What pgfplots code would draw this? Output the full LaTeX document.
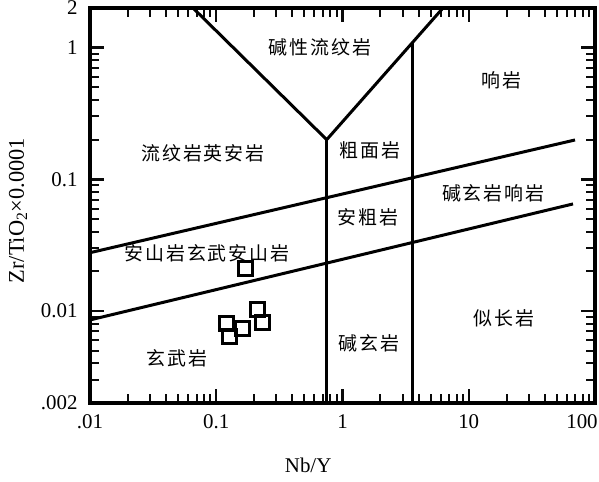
\documentclass[border=0pt]{standalone}
\usepackage{pgfplots}
\pgfplotsset{compat=1.18}
\usepackage{fontspec}
\setmainfont{Liberation Serif}
\newfontfamily\cjk[LetterSpace=10]{Noto Sans CJK SC}
\definecolor{tk}{rgb}{0.04,0.04,0.04}

\begin{document}
\begin{tikzpicture}
\begin{axis}[
  xmode=log, ymode=log,
  scale only axis, width=505bp, height=395bp,
  xmin=0.01, xmax=100, ymin=0.002, ymax=2,
  axis line style={line width=3.5bp},
  xtick={0.01,0.1,1,10,100}, xticklabels={.01,0.1,1,10,\hspace*{-26bp}100},
  ytick={0.002,0.01,0.1,1,2}, yticklabels={.002,0.01,0.1,1,2},
  minor xtick={0.02,0.03,0.04,0.05,0.06,0.07,0.08,0.09,0.2,0.3,0.4,0.5,0.6,0.7,0.8,0.9,2,3,4,5,6,7,8,9,20,30,40,50,60,70,80,90},
  minor ytick={0.003,0.004,0.005,0.006,0.007,0.008,0.009,0.02,0.03,0.04,0.05,0.06,0.07,0.08,0.09,0.2,0.3,0.4,0.5,0.6,0.7,0.8,0.9},
  tick align=inside,
  major tick length=14bp, minor tick length=9bp,
  every major tick/.append style={line width=2.4bp, tk},
  every minor tick/.append style={line width=2bp, tk},
  ticklabel style={font=\fontsize{21}{25}\selectfont},
  xticklabel style={yshift=-8bp},
  yticklabel style={xshift=-9bp},
  xlabel={Nb/Y},
  ylabel={Zr/TiO\textsubscript{2}×0.0001},
  label style={font=\fontsize{21}{25}\selectfont},
  xlabel style={at={(axis description cs:0.432,-0.159)}, anchor=center},
  ylabel style={at={(axis description cs:-0.1426,0.487)}, anchor=center, font=\fontsize{22.5}{26}\selectfont},
]
\addplot[black, line width=3bp] coordinates {(0.0655,2) (0.75,0.2) (6.25,2)};
\addplot[black, line width=3bp] coordinates {(0.75,0.2) (0.75,0.002)};
\addplot[black, line width=3bp] coordinates {(3.56,1.08) (3.56,0.002)};
\addplot[black, line width=3bp] coordinates {(0.01,0.0277) (69.5,0.199)};
\addplot[black, line width=3bp] coordinates {(0.01,0.00855) (67,0.065)};
\addplot[only marks, mark=square, mark size=7bp, line width=3bp, black] coordinates {
(0.169,0.0210) (0.1216,0.00798) (0.1285,0.00636) (0.160,0.00731) (0.214,0.0102) (0.234,0.00811)};
\begin{scope}[every node/.style={font=\cjk\fontsize{19}{22}\selectfont, inner sep=0pt}]
\node at (axis cs:0.664,1.01) {碱性流纹岩};
\node at (axis cs:18.3,0.568) {响岩};
\node at (axis cs:0.0786,0.158) {流纹岩英安岩};
\node at (axis cs:1.65,0.167) {粗面岩};
\node at (axis cs:1.59,0.0518) {安粗岩};
\node at (axis cs:15.6,0.0787) {碱玄岩响岩};
\node at (axis cs:0.0845,0.0276) {安山岩玄武安山岩};
\node at (axis cs:0.0489,0.0044) {玄武岩};
\node at (axis cs:1.62,0.00571) {碱玄岩};
\node at (axis cs:19.0,0.00885) {似长岩};
\end{scope}
\end{axis}
\pgfresetboundingbox
\path[use as bounding box] ([xshift=-90bp,yshift=-79bp]current axis.south west) rectangle ([xshift=4bp,yshift=8bp]current axis.north east);
\end{tikzpicture}
\end{document}
